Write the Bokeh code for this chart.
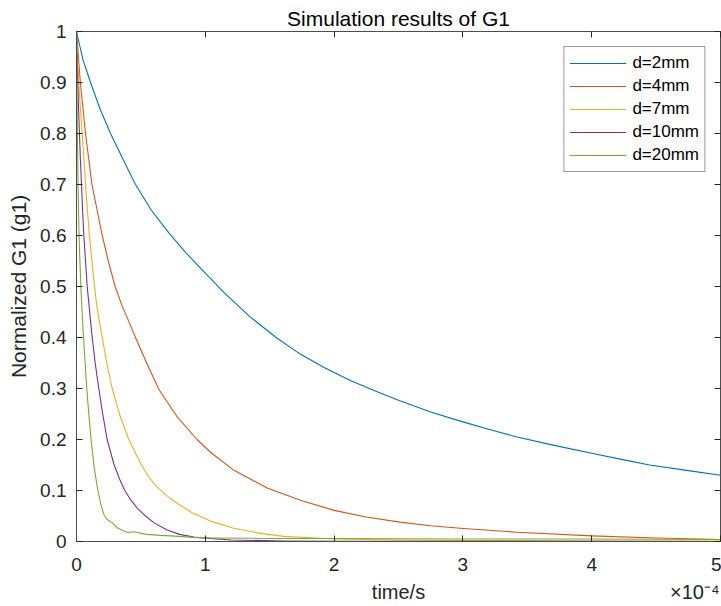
from bokeh.plotting import figure
from bokeh.models import Range1d, FixedTicker, LinearAxis
from bokeh.embed import file_html
from bokeh.resources import INLINE

FONT = "Liberation Sans"

title_text = "Simulation results of G1"
x_label = "time/s"
y_label = "Normalized G1 (g1)"
x_exponent = "\u00d710\u207b\u2074"

x_ticks = [0, 1, 2, 3, 4, 5]
y_ticks = [0, 0.1, 0.2, 0.3, 0.4, 0.5, 0.6, 0.7, 0.8, 0.9, 1.0]
y_tick_labels = ["0", "0.1", "0.2", "0.3", "0.4", "0.5", "0.6", "0.7", "0.8", "0.9", "1"]
# positions (in x data units) of the x-label and the exponent note under the axis
x_label_pos = 2.5
x_exponent_pos = 4.8

series_names = ["d=2mm", "d=4mm", "d=7mm", "d=10mm", "d=20mm"]
series_colors = ["#0072BD", "#D95319", "#EDB120", "#7E2F8E", "#77AC30"]

# time in units of 1e-4 s
t_2mm = [0, 0.05, 0.109, 0.18, 0.264, 0.36, 0.458, 0.58, 0.72, 0.85, 0.97, 1.15, 1.35, 1.55,
         1.74, 1.93, 2.13, 2.32, 2.51, 2.75, 2.98, 3.2, 3.42, 3.7, 4.0, 4.25, 4.45, 4.75, 5.0]
g_2mm = [1.0, 0.945, 0.9, 0.85, 0.8, 0.75, 0.7, 0.65, 0.604, 0.566, 0.534, 0.487, 0.44, 0.400,
         0.367, 0.340, 0.315, 0.295, 0.276, 0.254, 0.236, 0.220, 0.205, 0.189, 0.173, 0.160,
         0.150, 0.139, 0.130]

t_4mm = [0, 0.015, 0.03, 0.05, 0.07, 0.095, 0.12, 0.16, 0.2, 0.25, 0.3, 0.354, 0.4, 0.458,
         0.55, 0.64, 0.78, 0.936, 1.04, 1.22, 1.48, 1.75, 2.0, 2.25, 2.51, 2.75, 2.98, 3.42,
         4.0, 4.5, 5.0]
g_4mm = [1.0, 0.95, 0.9, 0.85, 0.8, 0.75, 0.7, 0.65, 0.6, 0.547, 0.5, 0.462, 0.435, 0.4,
         0.347, 0.298, 0.245, 0.2, 0.175, 0.14, 0.105, 0.08, 0.061, 0.048, 0.038, 0.031, 0.026,
         0.018, 0.011, 0.007, 0.004]

t_7mm = [0, 0.008, 0.018, 0.03, 0.044, 0.057, 0.07, 0.085, 0.10, 0.12, 0.14, 0.155, 0.175,
         0.2, 0.235, 0.277, 0.34, 0.406, 0.5, 0.561, 0.62, 0.7, 0.78, 0.9, 1.04, 1.22, 1.43,
         1.61, 2.0, 2.5, 3.0, 4.0, 5.0]
g_7mm = [1.0, 0.95, 0.9, 0.85, 0.8, 0.75, 0.7, 0.65, 0.6, 0.55, 0.5, 0.467, 0.435, 0.4, 0.35,
         0.3, 0.245, 0.2, 0.152, 0.127, 0.108, 0.09, 0.075, 0.056, 0.040, 0.026, 0.016, 0.010,
         0.005, 0.003, 0.002, 0.001, 0.001]

t_10mm = [0, 0.004, 0.01, 0.016, 0.023, 0.03, 0.039, 0.047, 0.057, 0.07, 0.083, 0.096, 0.108,
          0.122, 0.145, 0.173, 0.2, 0.238, 0.29, 0.335, 0.375, 0.42, 0.47, 0.522, 0.6, 0.7,
          0.8, 0.93, 1.2, 1.6, 2.0, 3.0, 4.0, 5.0]
g_10mm = [1.0, 0.95, 0.9, 0.85, 0.8, 0.75, 0.7, 0.65, 0.6, 0.55, 0.5, 0.467, 0.435, 0.4, 0.35,
          0.3, 0.255, 0.2, 0.152, 0.122, 0.1, 0.082, 0.066, 0.053, 0.037, 0.023, 0.014, 0.008,
          0.003, 0.001, 0.0005, 0.0003, 0.0002, 0.0001]

t_20mm = [0, 0.003, 0.007, 0.012, 0.018, 0.025, 0.034, 0.04, 0.05, 0.062, 0.072, 0.083, 0.097,
          0.114, 0.14, 0.166, 0.19, 0.212, 0.235, 0.25, 0.265, 0.277, 0.295, 0.316, 0.341,
          0.37, 0.406, 0.43, 0.47, 0.5, 0.548, 0.65, 0.73, 0.91, 1.04, 1.5, 2.0, 3.0, 4.0, 5.0]
g_20mm = [1.0, 0.9, 0.8, 0.7, 0.62, 0.56, 0.5, 0.467, 0.42, 0.37, 0.33, 0.29, 0.245, 0.198,
          0.14, 0.1, 0.072, 0.053, 0.044, 0.041, 0.039, 0.037, 0.032, 0.027, 0.024, 0.020,
          0.017, 0.019, 0.018, 0.016, 0.014, 0.012, 0.011, 0.008, 0.007, 0.006, 0.006, 0.005,
          0.005, 0.004]

series_t = [t_2mm, t_4mm, t_7mm, t_10mm, t_20mm]
series_g = [g_2mm, g_4mm, g_7mm, g_10mm, g_20mm]

AX = "#4d4d4d"
TXT = "#262626"

p = figure(width=721, height=606, x_range=Range1d(0, 5), y_range=Range1d(0, 1),
           output_backend="svg", toolbar_location=None, x_axis_location=None,
           min_border_left=76, min_border_top=31, min_border_right=1, min_border_bottom=65)
p.background_fill_color = "white"
p.border_fill_color = "white"
p.outline_line_color = AX
p.outline_line_width = 1
p.xgrid.grid_line_color = None
p.ygrid.grid_line_color = None

for t, g, name, col in zip(series_t, series_g, series_names, series_colors):
    p.line(t, g, line_color=col, line_width=1.1, line_join="round", legend_label=name)

def style(ax, size="19px"):
    ax.axis_line_color = AX
    ax.major_tick_line_color = TXT
    ax.major_tick_in = 6
    ax.major_tick_out = 0
    ax.minor_tick_line_color = None
    ax.major_label_text_font = FONT
    ax.major_label_text_font_size = size
    ax.major_label_text_color = TXT
    ax.axis_label_text_font = FONT
    ax.axis_label_text_font_size = "21px"
    ax.axis_label_text_font_style = "normal"
    ax.axis_label_text_color = TXT

# bottom axis with tick numbers
xa = LinearAxis(ticker=FixedTicker(ticks=x_ticks))
style(xa)
xa.major_label_standoff = 16
p.add_layout(xa, "below")

# second row under the axis: x label and the exponent note
xa2 = LinearAxis(ticker=FixedTicker(ticks=[x_label_pos, x_exponent_pos]))
style(xa2, "20px")
xa2.axis_line_color = None
xa2.major_tick_line_color = None
xa2.major_tick_in = 0
xa2.major_label_standoff = 7
xa2.major_label_overrides = {x_label_pos: x_label, x_exponent_pos: x_exponent}
p.add_layout(xa2, "below")

ya = p.yaxis[0]
ya.ticker = FixedTicker(ticks=y_ticks)
ya.major_label_overrides = {v: s for v, s in zip(y_ticks, y_tick_labels)}
style(ya)
ya.axis_label = y_label
ya.major_label_standoff = 10
ya.axis_label_standoff = 7

# box ticks on top and right
top = LinearAxis(ticker=FixedTicker(ticks=x_ticks), major_label_text_font_size="0px",
                 major_label_text_color=None, major_label_standoff=0, major_tick_in=6,
                 major_tick_out=0, minor_tick_line_color=None, axis_line_color=None,
                 major_tick_line_color=TXT)
right = LinearAxis(ticker=FixedTicker(ticks=y_ticks), major_label_text_font_size="0px",
                   major_label_text_color=None, major_label_standoff=0, major_tick_in=6,
                   major_tick_out=0, minor_tick_line_color=None, axis_line_color=None,
                   major_tick_line_color=TXT)
p.add_layout(top, "above")
p.add_layout(right, "right")

p.title.text = title_text
p.title.align = "center"
p.title.vertical_align = "middle"
p.title.text_font = FONT
p.title.text_font_size = "21px"
p.title.text_font_style = "normal"
p.title.text_color = "#000000"
p.title.standoff = 2

lg = p.legend[0]
lg.location = "top_right"
lg.margin = 15
lg.padding = 5
lg.spacing = 1
lg.label_height = 22
lg.glyph_height = 22
lg.glyph_width = 57
lg.label_standoff = 6
lg.label_width = 62
lg.label_text_font = FONT
lg.label_text_font_size = "17px"
lg.label_text_color = "#000000"
lg.border_line_color = "#333333"
lg.border_line_width = 1
lg.background_fill_color = "white"
lg.background_fill_alpha = 1.0

open("out.html", "w").write(file_html(p, INLINE))
